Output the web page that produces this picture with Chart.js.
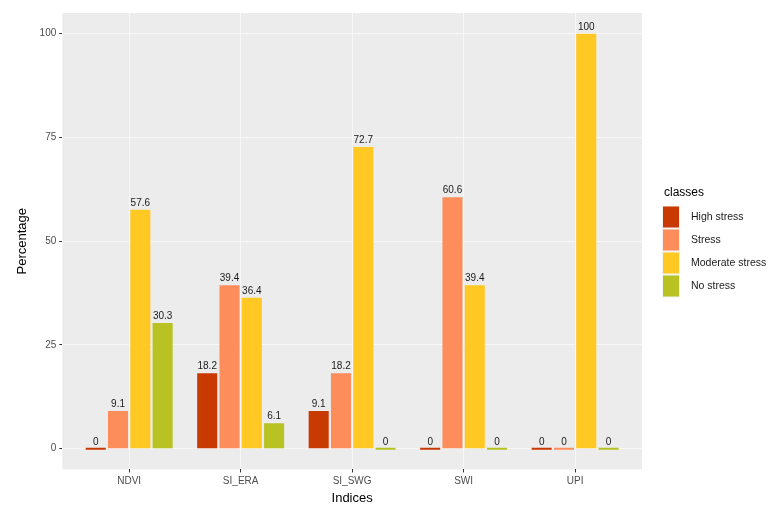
<!DOCTYPE html>
<html>
<head>
<meta charset="utf-8">
<script src="https://cdn.jsdelivr.net/npm/chart.js@4/dist/chart.umd.min.js"></script>
<style>
html,body{margin:0;padding:0;background:#fff;}
#wrap{width:778px;height:506px;}
</style>
</head>
<body>
<div id="wrap"><canvas id="c" width="778" height="506"></canvas></div>
<script>
const categories = ["NDVI", "SI_ERA", "SI_SWG", "SWI", "UPI"];
const classNames = ["High stress", "Stress", "Moderate stress", "No stress"];
const highStress = [0, 18.2, 9.1, 0, 0];
const stress = [9.1, 39.4, 18.2, 60.6, 0];
const moderateStress = [57.6, 36.4, 72.7, 39.4, 100];
const noStress = [30.3, 6.1, 0, 0, 0];
const yTicks = [0, 25, 50, 75, 100];
const classColors = ["#C93A03", "#FD8D5A", "#FFC823", "#B8C222"];

const seriesValues = [highStress, stress, moderateStress, noStress];

const panelBg = {
  id: 'panelBg',
  beforeDraw(chart) {
    const {ctx, chartArea: a} = chart;
    ctx.save();
    ctx.fillStyle = '#ECECEC';
    ctx.fillRect(a.left, a.top, a.right - a.left, a.bottom - a.top);
    ctx.restore();
  }
};

const valueLabels = {
  id: 'valueLabels',
  afterDatasetsDraw(chart) {
    const ctx = chart.ctx;
    ctx.save();
    ctx.font = '10px "Liberation Sans", Arial, sans-serif';
    ctx.fillStyle = '#1a1a1a';
    ctx.textAlign = 'center';
    ctx.textBaseline = 'alphabetic';
    chart.data.datasets.forEach((ds, di) => {
      const meta = chart.getDatasetMeta(di);
      meta.data.forEach((bar, i) => {
        const v = ds.data[i].y;
        const yTop = chart.scales.y.getPixelForValue(v);
        ctx.fillText(String(v), bar.x, yTop - 4);
      });
    });
    ctx.restore();
  }
};

const customLegend = {
  id: 'customLegend',
  afterDraw(chart) {
    const ctx = chart.ctx;
    ctx.save();
    ctx.fillStyle = '#000';
    ctx.font = '12px "Liberation Sans", Arial, sans-serif';
    ctx.textBaseline = 'middle';
    ctx.textAlign = 'left';
    ctx.fillText('classes', 664, 193);
    ctx.font = '10.5px "Liberation Sans", Arial, sans-serif';
    classNames.forEach((name, i) => {
      const cy = 217 + i * 23;
      ctx.fillStyle = '#F2F2F2';
      ctx.fillRect(662, cy - 11.5, 18, 23);
      ctx.fillStyle = classColors[i];
      ctx.fillRect(663, cy - 10.5, 16, 21);
      ctx.fillStyle = '#1a1a1a';
      ctx.fillText(name, 691, cy);
    });
    ctx.restore();
  }
};

new Chart(document.getElementById('c'), {
  type: 'bar',
  data: {
    datasets: classNames.map((n, i) => ({
      label: n,
      data: seriesValues[i].map((v, k) => ({ x: k, y: v })),
      backgroundColor: classColors[i],
      borderWidth: 0,
      minBarLength: 2,
      categoryPercentage: 0.8,
      barPercentage: 0.9
    }))
  },
  options: {
    responsive: false,
    animation: false,
    devicePixelRatio: 1,
    layout: { padding: { left: 15, right: 136, top: 13, bottom: 0 } },
    plugins: {
      legend: { display: false },
      tooltip: { enabled: false }
    },
    scales: {
      x: {
        type: 'linear',
        offset: false,
        min: -0.6,
        max: categories.length - 0.4,
        afterBuildTicks(scale) { scale.ticks = categories.map((c, k) => ({ value: k })); },
        grid: { offset: false, color: '#F7F7F7', lineWidth: 1, tickColor: '#333333', tickLength: 3, drawTicks: true },
        border: { display: false },
        ticks: { color: '#4D4D4D', font: { family: '"Liberation Sans", Arial, sans-serif', size: 10 }, padding: 3, autoSkip: false, maxRotation: 0, callback: (v) => categories[v] },
        title: { display: true, text: 'Indices', color: '#000', font: { family: '"Liberation Sans", Arial, sans-serif', size: 13 }, padding: { top: 0, bottom: 0 } }
      },
      y: {
        min: -5,
        max: 105,
        afterBuildTicks(scale) { scale.ticks = yTicks.map(v => ({ value: v })); },
        grid: { color: '#F7F7F7', lineWidth: 1, tickColor: '#333333', tickLength: 3, drawTicks: true },
        border: { display: false },
        ticks: { color: '#4D4D4D', font: { family: '"Liberation Sans", Arial, sans-serif', size: 10 }, padding: 3, callback: (v) => String(v) },
        title: { display: true, text: 'Percentage', color: '#000', font: { family: '"Liberation Sans", Arial, sans-serif', size: 13 }, padding: { top: 0, bottom: 6 } }
      }
    }
  },
  plugins: [panelBg, valueLabels, customLegend]
});
</script>
</body>
</html>
